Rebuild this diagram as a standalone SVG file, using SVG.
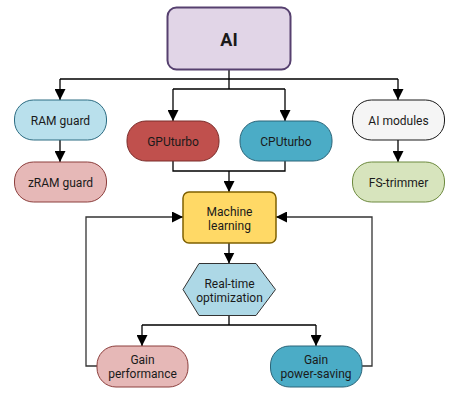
<svg xmlns="http://www.w3.org/2000/svg" width="458" height="400" viewBox="0 0 458 400">
<defs>
<marker id="ah" markerWidth="11" markerHeight="11" viewBox="0 0 11 11" refX="11" refY="5.5" orient="auto" markerUnits="userSpaceOnUse">
<path d="M0,0 L11,5.5 L0,11 Z" fill="#000"/>
</marker>
<style>
.t{font-family:Roboto,"Liberation Sans",sans-serif;font-size:12px;fill:#1a1a1a;text-anchor:middle;dominant-baseline:central}
.c{fill:none;stroke:#000;stroke-width:1.3}
.f{fill:none;stroke:#333;stroke-width:1.3}
</style>
</defs>
<rect width="458" height="400" fill="#fff"/>
<g id="connectors">
<path class="c" d="M229,70 V79 M60,79 H398" />
<path class="c" d="M60,79 V100" marker-end="url(#ah)"/>
<path class="c" d="M398,79 V100" marker-end="url(#ah)"/>
<path class="c" d="M229,79 V89 M173,89 H285"/>
<path class="c" d="M173,89 V121" marker-end="url(#ah)"/>
<path class="c" d="M285,89 V121" marker-end="url(#ah)"/>
<path class="c" d="M60,140 V162" marker-end="url(#ah)"/>
<path class="c" d="M398,140 V162" marker-end="url(#ah)"/>
<path class="c" d="M173,161 V171 H285 V161 M229,171 V192" marker-end="url(#ah)"/>
<path class="c" d="M229,243 V263.5" marker-end="url(#ah)"/>
<path class="c" d="M229,315.5 V325 M142,325 H316"/>
<path class="c" d="M142,325 V346" marker-end="url(#ah)"/>
<path class="c" d="M316,325 V346" marker-end="url(#ah)"/>
<path class="f" d="M97,366 H86 V217 H183" marker-end="url(#ah)"/>
<path class="f" d="M362,366 H372 V217 H276" marker-end="url(#ah)"/>
</g>
<g id="ai">
<rect x="167.5" y="7.5" width="123" height="62" rx="9" fill="#e1d5e7" stroke="#56406f" stroke-width="2"/>
<text class="t" x="229" y="39" style="font-size:18px;font-weight:bold">AI</text>
</g>
<g id="ramguard">
<rect x="14.5" y="100" width="92" height="40" rx="19" fill="#b9e0ec" stroke="#2c6c82" stroke-width="1"/>
<text class="t" x="60.5" y="121">RAM guard</text>
</g>
<g id="zramguard">
<rect x="14.5" y="162" width="92" height="40" rx="19" fill="#e6b8b7" stroke="#8c3e3c" stroke-width="1"/>
<text class="t" x="60.5" y="183">zRAM guard</text>
</g>
<g id="gputurbo">
<rect x="127" y="121" width="92" height="40" rx="19" fill="#c0504d" stroke="#7a2c2a" stroke-width="1"/>
<text class="t" x="173" y="142">GPUturbo</text>
</g>
<g id="cputurbo">
<rect x="240" y="121" width="92" height="40" rx="19" fill="#4bacc6" stroke="#2b6478" stroke-width="1"/>
<text class="t" x="286" y="142">CPUturbo</text>
</g>
<g id="aimodules">
<rect x="352.5" y="100" width="92" height="40" rx="19" fill="#f5f5f5" stroke="#1a1a1a" stroke-width="1"/>
<text class="t" x="398.5" y="121">AI modules</text>
</g>
<g id="fstrimmer">
<rect x="352.5" y="162" width="92" height="40" rx="19" fill="#d7e4bd" stroke="#6d8a3e" stroke-width="1"/>
<text class="t" x="398.5" y="183">FS-trimmer</text>
</g>
<g id="ml">
<rect x="183" y="192" width="93" height="51" rx="6" fill="#ffd966" stroke="#7f6000" stroke-width="1.5"/>
<text class="t" x="229.5" y="211.5">Machine</text>
<text class="t" x="229.5" y="226">learning</text>
</g>
<g id="rto">
<polygon points="199,263.5 256,263.5 275.5,289.5 256,315.5 199,315.5 183,289.5" fill="#add8e6" stroke="#333" stroke-width="1"/>
<text class="t" x="229.5" y="283.5">Real-time</text>
<text class="t" x="229.5" y="297.5">optimization</text>
</g>
<g id="gainperf">
<rect x="97" y="346" width="91" height="41" rx="19" fill="#e6b8b7" stroke="#8c3e3c" stroke-width="1"/>
<text class="t" x="142.5" y="360">Gain</text>
<text class="t" x="142.5" y="374">performance</text>
</g>
<g id="gainpower">
<rect x="270.5" y="346" width="91.5" height="41" rx="19" fill="#4bacc6" stroke="#2b6478" stroke-width="1"/>
<text class="t" x="316" y="360">Gain</text>
<text class="t" x="316" y="374">power-saving</text>
</g>
</svg>
